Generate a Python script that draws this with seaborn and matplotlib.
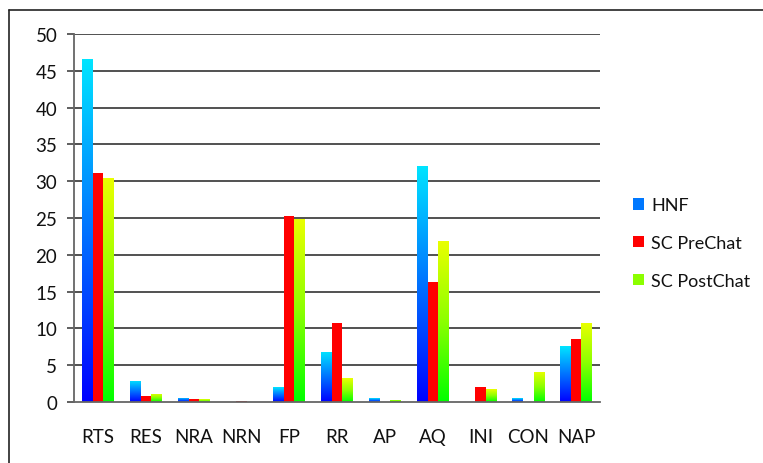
import numpy as np
import pandas as pd
import matplotlib
matplotlib.use("Agg")
import matplotlib.pyplot as plt
from matplotlib.lines import Line2D
from matplotlib.patches import Patch
from matplotlib.colors import LinearSegmentedColormap
import seaborn as sns

categories = ["RTS", "RES", "NRA", "NRN", "FP", "RR", "AP", "AQ", "INI", "CON", "NAP"]
hnf = [46.6, 2.9, 0.6, 0.0, 2.0, 6.8, 0.5, 32.1, 0.0, 0.5, 7.6]
sc_prechat = [31.1, 0.8, 0.4, 0.2, 25.3, 10.7, 0.0, 16.3, 2.0, 0.0, 8.5]
sc_postchat = [30.5, 1.1, 0.4, 0.0, 24.9, 3.2, 0.3, 21.9, 1.7, 4.1, 10.8]
series_names = ["HNF", "SC PreChat", "SC PostChat"]
y_ticks = [0, 5, 10, 15, 20, 25, 30, 35, 40, 45, 50]

df = pd.DataFrame({
    "cat": categories * 3,
    "series": [series_names[0]] * 11 + [series_names[1]] * 11 + [series_names[2]] * 11,
    "value": hnf + sc_prechat + sc_postchat,
})

sns.set_style("white")
plt.rcParams["font.family"] = ["Lato", "DejaVu Sans"]

fig = plt.figure(figsize=(7.63, 4.64), dpi=100)
ax = fig.add_axes([74 / 763, 61 / 464, 526 / 763, 368 / 464])

palette = {"HNF": "#0078ff", "SC PreChat": "#ff0000", "SC PostChat": "#8cff00"}
sns.barplot(data=df, x="cat", y="value", hue="series", order=categories,
            hue_order=series_names, palette=palette, width=0.66, ax=ax,
            legend=False, saturation=1, linewidth=0)

cmaps = {
    0: LinearSegmentedColormap.from_list("b", [(0, 0, 1), (0, 0.45, 1), (0, 0.9, 1)]),
    2: LinearSegmentedColormap.from_list("g", [(0, 1, 0), (0.55, 1, 0), (0.92, 1, 0)]),
}
grad = np.linspace(0, 1, 256).reshape(-1, 1)
for i, cont in enumerate(ax.containers):
    if i not in cmaps:
        continue
    for p in cont.patches:
        h = p.get_height()
        if h <= 0:
            continue
        x0 = p.get_x()
        w = p.get_width()
        im = ax.imshow(grad, cmap=cmaps[i], origin="lower", aspect="auto",
                       extent=(x0, x0 + w, 0, h), zorder=p.get_zorder() + 0.1)
        im.set_clip_path(p)

ax.set_xlim(-0.5, 10.5)
ax.set_ylim(0, 50)
ax.set_yticks(y_ticks)
ax.set_yticklabels([str(t) for t in y_ticks])
ax.set_xlabel("")
ax.set_ylabel("")

for t in y_ticks[1:]:
    ax.axhline(t, color="#333333", lw=1.2, zorder=0.5)

for s in ["top", "right"]:
    ax.spines[s].set_visible(False)
for s in ["left", "bottom"]:
    ax.spines[s].set_color("#666666")
    ax.spines[s].set_linewidth(1.3)

ax.set_xticks(np.arange(-0.5, 11, 1), minor=True)
ax.tick_params(axis="x", which="major", length=0, pad=19, labelsize=13.5, labelcolor="#111111")
ax.tick_params(axis="x", which="minor", length=5, width=1.2, color="#444444", direction="out")
ax.tick_params(axis="y", which="major", left=True, length=5, width=1.2, color="#444444",
               pad=7, labelsize=13.5, labelcolor="#111111", direction="out")
ax.set_axisbelow(True)

handles = [Patch(facecolor=palette[n], edgecolor="none") for n in series_names]
fig.legend(handles, series_names, loc="center left", bbox_to_anchor=(617 / 763, 1 - 244 / 464),
           frameon=False, fontsize=13, handlelength=0.6, handleheight=0.6,
           handletextpad=0.4, labelspacing=1.2, labelcolor="#111111")

fig.add_artist(Line2D([9 / 763, 9 / 763], [0, 1 - 11 / 464], transform=fig.transFigure,
                      color="#222222", lw=1.2))
fig.add_artist(Line2D([9 / 763, 1], [1 - 11 / 464, 1 - 11 / 464], transform=fig.transFigure,
                      color="#222222", lw=1.2))

fig.savefig("out.png", dpi=100)
